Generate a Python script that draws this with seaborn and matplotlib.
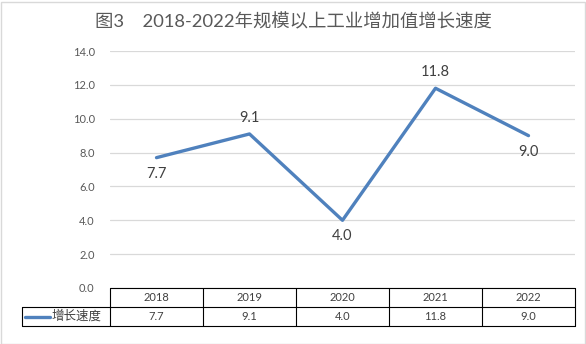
import matplotlib
matplotlib.use("Agg")
import matplotlib.pyplot as plt
import matplotlib.transforms as mtransforms
from matplotlib.lines import Line2D
from matplotlib.patches import Rectangle
import seaborn as sns
import pandas as pd

years = ["2018", "2019", "2020", "2021", "2022"]
growth = [7.7, 9.1, 4.0, 11.8, 9.0]
series_name = "增长速度"
title = "图3　2018-2022年规模以上工业增加值增长速度"
yticks = [0, 2, 4, 6, 8, 10, 12, 14]
label_side = [-1, 1, -1, 1, -1]

sns.set_theme(style="white")
plt.rcParams["font.family"] = ["Lato", "Noto Sans CJK SC", "DejaVu Sans"]

W, H = 586, 344
fig = plt.figure(figsize=(W / 100, H / 100), dpi=100)
fig.patch.set_facecolor("white")

def fx(px):
    return px / W

def fy(py):
    return 1 - py / H

L, R, T, B = 110, 575, 51, 288
ax = fig.add_axes([fx(L), fy(B), fx(R) - fx(L), fy(T) - fy(B)])

df = pd.DataFrame({"year": years, "value": growth})
df["x"] = range(len(years))
color = "#4F81BD"
sns.lineplot(data=df, x="x", y="value", ax=ax, color=color, linewidth=2.4, sort=False)

ax.set_xlim(-0.5, len(years) - 0.5)
ax.set_ylim(0, 14)
ax.set_yticks(yticks)
ax.set_yticklabels([f"{v:.1f}" for v in yticks], fontsize=8, color="#595959")
ax.set_xticks([])
ax.set_xlabel("")
ax.set_ylabel("")
ax.tick_params(axis="y", length=0, pad=11)
ax.grid(axis="y", color="#D9D9D9", linewidth=0.9)
ax.set_axisbelow(True)
for s in ax.spines.values():
    s.set_visible(False)

for i, (v, side) in enumerate(zip(growth, label_side)):
    ax.annotate(f"{v:.1f}", (i, v), xytext=(0, 11.5 * side), textcoords="offset points",
                ha="center", va="center", fontsize=10.5, color="#404040")

fig.text(0.5, fy(22), title, ha="center", va="center", fontsize=13.2, color="#595959",
         family=["Lato", "Noto Sans CJK SC"])

# data table
lc = "#000000"
lw = 0.8
row1, row2, row3 = 288, 307, 326
left0 = 22
col_w = (R - L) / len(years)
def hline(y, x0, x1):
    fig.add_artist(Line2D([fx(x0), fx(x1)], [fy(y), fy(y)], color=lc, lw=lw))
def vline(x, y0, y1):
    fig.add_artist(Line2D([fx(x), fx(x)], [fy(y0), fy(y1)], color=lc, lw=lw))
hline(row1, L, R)
hline(row2, left0, R)
hline(row3, left0, R)
for k in range(len(years) + 1):
    vline(L + k * col_w, row1, row3)
vline(left0, row2, row3)

blend = mtransforms.blended_transform_factory(ax.transData, fig.transFigure)
for i, (yr, v) in enumerate(zip(years, growth)):
    fig.text(i, fy((row1 + row2) / 2), yr, transform=blend, ha="center", va="center",
             fontsize=8, color="#404040")
    fig.text(i, fy((row2 + row3) / 2), f"{v:.1f}", transform=blend, ha="center", va="center",
             fontsize=8, color="#404040")

fig.add_artist(Line2D([fx(25), fx(50)], [fy((row2 + row3) / 2)] * 2, color=color, lw=2.4))
fig.text(fx(52), fy((row2 + row3) / 2), series_name, ha="left", va="center", fontsize=9,
         color="#404040", family=["Noto Sans CJK SC"])

fig.add_artist(Rectangle((0.5 / W, 0.5 / H), 1 - 2 / W, 1 - 2 / H, transform=fig.transFigure,
                         fill=False, edgecolor="#D9D9D9", lw=1))

fig.savefig("out.png", dpi=100, facecolor="white")
